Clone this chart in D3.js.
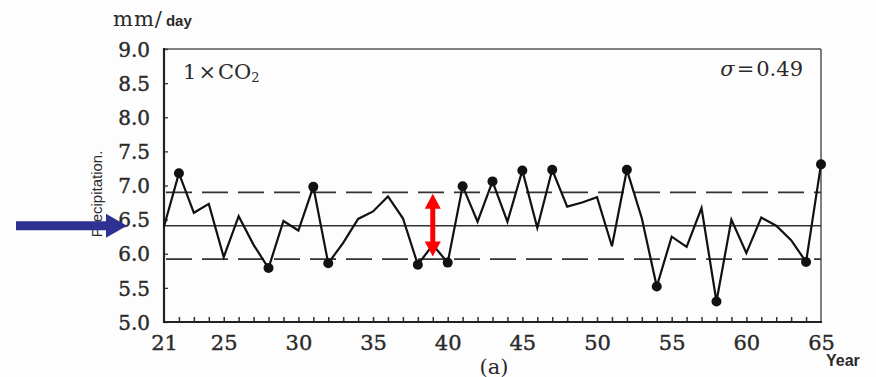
<!DOCTYPE html>
<html>
<head>
<meta charset="utf-8">
<script src="https://cdn.jsdelivr.net/npm/d3@7"></script>
<style>
  body { margin: 0; background: #fdfdfd; }
  svg { display: block; }
  .domain { display: none; }
</style>
</head>
<body>
<svg id="chart" width="876" height="377"></svg>
<script>
// yearly precipitation, 1xCO2 run (mm/day)
var years = d3.range(21, 66);
var precip = [6.40, 7.18, 6.60, 6.73, 5.95, 6.55, 6.13, 5.79, 6.48, 6.34,
              6.98, 5.86, 6.16, 6.51, 6.62, 6.84, 6.52, 5.84, 6.13, 5.87,
              6.99, 6.47, 7.06, 6.47, 7.22, 6.38, 7.23, 6.69, 6.75, 6.83,
              6.11, 7.23, 6.52, 5.52, 6.25, 6.10, 6.67, 5.30, 6.50, 6.01,
              6.53, 6.41, 6.20, 5.88, 7.31];
var markedYears = [22, 28, 31, 32, 38, 40, 41, 43, 45, 47, 52, 54, 58, 64, 65];
var meanValue = 6.41;
var sigma = 0.49;
var xTickLabels = [21, 25, 30, 35, 40, 45, 50, 55, 60, 65];
var yTickLabels = [5.0, 5.5, 6.0, 6.5, 7.0, 7.5, 8.0, 8.5, 9.0];
var arrowYear = 39;
var arrowRange = [5.96, 6.88];

var svg = d3.select("#chart");
var plotLeft = 164, plotRight = 821, plotTop = 49, plotBottom = 322;
var serif = "DejaVu Serif";
var sans = "Liberation Sans";
var ink = "#2a2a2a";

var x = d3.scaleLinear().domain([21, 65]).range([plotLeft, plotRight]);
var y = d3.scaleLinear().domain([5, 9]).range([plotBottom, plotTop]);

var data = years.map(function(yr, i) { return { year: yr, value: precip[i] }; });

// frame: top and right lighter
svg.append("line").attr("x1", plotLeft).attr("x2", plotRight).attr("y1", plotTop).attr("y2", plotTop)
    .attr("stroke", "#555").attr("stroke-width", 1.5);
svg.append("line").attr("x1", plotRight).attr("x2", plotRight).attr("y1", plotTop).attr("y2", plotBottom)
    .attr("stroke", "#555").attr("stroke-width", 1.5);

function styleLabels(sel, size) {
    sel.attr("font-family", serif).attr("font-size", size);
    sel.selectAll(".tick text")
        .attr("font-family", serif).attr("font-size", size)
        .attr("fill", ink).attr("stroke", ink).attr("stroke-width", 0.4);
}

// y axis
var yAxis = svg.append("g").attr("transform", "translate(" + plotLeft + ",0)")
    .call(d3.axisLeft(y).tickValues(yTickLabels).tickFormat(d3.format(".1f"))
        .tickSizeInner(-4).tickSizeOuter(0).tickPadding(14));
yAxis.selectAll(".tick line").attr("stroke", "#333").attr("stroke-width", 1.3);
styleLabels(yAxis, 20);
yAxis.selectAll(".tick text").attr("dy", "0.36em");

// x axis: minor ticks every year, labels at chosen years
var xMinor = svg.append("g").attr("transform", "translate(0," + plotBottom + ")")
    .call(d3.axisBottom(x).tickValues(years.slice(1, -1)).tickFormat("")
        .tickSizeInner(-5).tickSizeOuter(0));
xMinor.selectAll(".tick line").attr("stroke", "#333").attr("stroke-width", 1.5);

var xAxis = svg.append("g").attr("transform", "translate(0," + plotBottom + ")")
    .call(d3.axisBottom(x).tickValues(xTickLabels).tickSize(0).tickPadding(13));
styleLabels(xAxis, 21);

svg.append("line").attr("x1", plotLeft).attr("x2", plotLeft).attr("y1", plotTop - 1).attr("y2", plotBottom + 1)
    .attr("stroke", "#222").attr("stroke-width", 2.2);
svg.append("line").attr("x1", plotLeft).attr("x2", plotRight + 1).attr("y1", plotBottom).attr("y2", plotBottom)
    .attr("stroke", "#222").attr("stroke-width", 2.2);

// mean and +-sigma lines
svg.append("line").attr("x1", plotLeft).attr("x2", plotRight).attr("y1", y(meanValue)).attr("y2", y(meanValue))
    .attr("stroke", "#333").attr("stroke-width", 1.4);
[meanValue + sigma, meanValue - sigma].forEach(function(v) {
    svg.append("line").attr("x1", plotLeft + 2).attr("x2", plotRight).attr("y1", y(v)).attr("y2", y(v))
        .attr("stroke", "#333").attr("stroke-width", 1.8).attr("stroke-dasharray", "26,10");
});

// series
svg.append("path").datum(data)
    .attr("fill", "none").attr("stroke", "#111").attr("stroke-width", 2.2)
    .attr("stroke-linejoin", "miter")
    .attr("d", d3.line().x(function(d) { return x(d.year); }).y(function(d) { return y(d.value); }));

svg.selectAll("circle.mark")
    .data(data.filter(function(d) { return markedYears.indexOf(d.year) >= 0; }))
    .enter().append("circle").attr("class", "mark")
    .attr("cx", function(d) { return x(d.year); })
    .attr("cy", function(d) { return y(d.value); })
    .attr("r", 5).attr("fill", "#111");

// labels
var unit = svg.append("text").attr("x", 113).attr("y", 26).attr("fill", ink);
unit.append("tspan").attr("font-family", serif).attr("font-size", 21).attr("letter-spacing", 1).text("mm/");
unit.append("tspan").attr("font-family", sans).attr("font-weight", "bold").attr("font-size", 15).attr("dx", 3).text("day");

var co2 = svg.append("text").attr("x", 183).attr("y", 79).attr("fill", ink)
    .attr("font-family", serif).attr("font-size", 21);
co2.append("tspan").text("1");
co2.append("tspan").attr("dx", 2).text("×");
co2.append("tspan").attr("dx", 2).text("CO");
co2.append("tspan").attr("font-size", 13).attr("dy", 3).text("2");

var sig = svg.append("text").attr("x", 803).attr("y", 76).attr("text-anchor", "end").attr("fill", ink)
    .attr("font-family", serif).attr("font-size", 21);
sig.append("tspan").attr("font-style", "italic").text("σ");
sig.append("tspan").attr("dx", 2).text("=");
sig.append("tspan").attr("dx", 2).text("0.49");

svg.append("text").attr("transform", "translate(102,194) rotate(-90)")
    .attr("text-anchor", "middle").attr("font-family", sans).attr("font-size", 15)
    .attr("fill", ink).text("Precipitation.");

svg.append("text").attr("x", 494).attr("y", 374).attr("text-anchor", "middle")
    .attr("font-family", serif).attr("font-size", 21).attr("fill", ink).text("(a)");

svg.append("text").attr("x", 826).attr("y", 366).attr("font-family", sans).attr("font-weight", "bold")
    .attr("font-size", 16).attr("fill", ink).text("Year");

// red double arrow between sigma lines
var ax = x(arrowYear), aTop = y(arrowRange[1]), aBot = y(arrowRange[0]);
svg.append("rect").attr("x", ax - 2.5).attr("y", aTop + 12).attr("width", 5).attr("height", aBot - aTop - 24)
    .attr("fill", "#ff0000");
svg.append("path").attr("fill", "#ff0000")
    .attr("d", "M" + ax + "," + aTop + "L" + (ax + 8) + "," + (aTop + 15) + "L" + (ax - 8) + "," + (aTop + 15) + "Z");
svg.append("path").attr("fill", "#ff0000")
    .attr("d", "M" + ax + "," + aBot + "L" + (ax + 8) + "," + (aBot - 15) + "L" + (ax - 8) + "," + (aBot - 15) + "Z");

// blue arrow pointing at the mean level
var by = y(meanValue);
svg.append("path").attr("fill", "#2e3192")
    .attr("d", "M16," + (by - 4.5) + "L106," + (by - 4.5) + "L106," + (by - 12) + "L127," + by +
               "L106," + (by + 12) + "L106," + (by + 4.5) + "L16," + (by + 4.5) + "Z");
</script>
</body>
</html>
